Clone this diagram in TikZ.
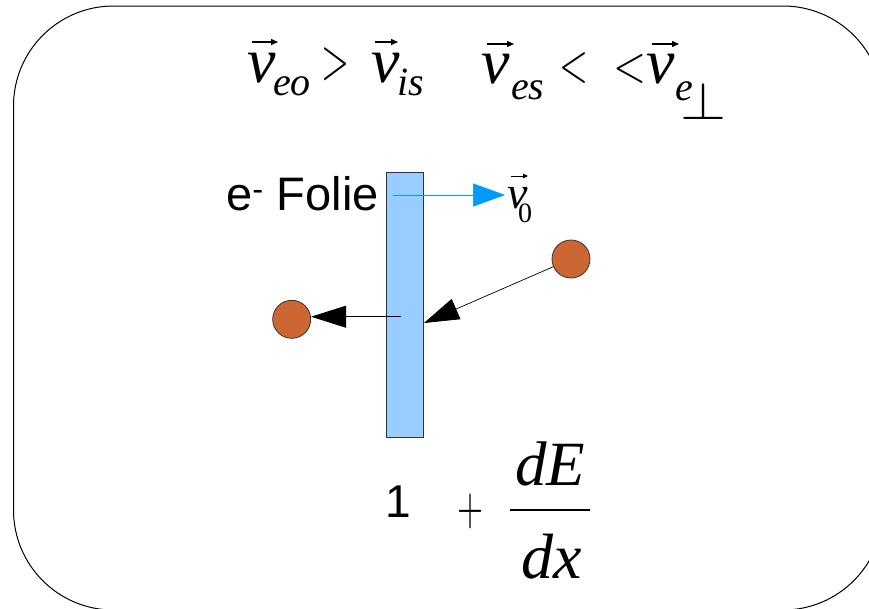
\documentclass[tikz,border=0pt]{standalone}
\usepackage{fontspec}
\setmainfont{Liberation Serif}
\newfontfamily\sansf{Liberation Sans}
\usetikzlibrary{arrows.meta}
\definecolor{foilblue}{HTML}{99CCFF}
\definecolor{ionfill}{HTML}{CC6633}
\definecolor{beamblue}{HTML}{0099FF}
\definecolor{edgegray}{HTML}{333333}
\tikzset{
  vbig/.style={anchor=base west, inner sep=0pt, font=\fontsize{64}{64}\selectfont\itshape},
  subtxt/.style={anchor=base west, inner sep=0pt, font=\fontsize{40}{40}\selectfont\itshape},
  reltxt/.style={inner sep=0pt},
  vecarrow/.style={-{Triangle[length=7pt,width=6pt]}, line width=1.3pt},
  ion/.style={circle, draw=edgegray, fill=ionfill, minimum size=38pt, inner sep=0pt, line width=0.8pt},
  foilbox/.style={draw=edgegray, fill=foilblue, minimum width=37.5pt, minimum height=264.3pt, inner sep=0pt, line width=0.8pt},
  bigarrow/.style={-{Triangle[length=35pt,width=22pt]}, line width=0.7pt},
  beam/.style={beamblue, -{Triangle[length=32pt,width=23pt]}, line width=0.7pt},
  sanslabel/.style={inner sep=0pt, font=\sansf\fontsize{47}{47}\selectfont},
}
\begin{document}
\begin{tikzpicture}[x=1pt,y=-1pt]
\useasboundingbox (0,0) rectangle (869,608);
\fill[white] (0,0) rectangle (869,608);
\begin{scope}
  \clip (0,0) rectangle (869,608);
  \draw[line width=1pt, rounded corners=100pt] (13.5,6) rectangle (883,610);
\end{scope}

% top formula
\node[vbig] (v1) at (247,82) {v};
\node[subtxt] (s1) at (273,95) {eo};
\node[reltxt] (r1) at (335,64) {\resizebox*{28pt}{33pt}{$>$}};
\node[vbig] (v2) at (371,82) {v};
\node[subtxt] (s2) at (397,95) {is};
\node[vbig] (v3) at (481,83) {v};
\node[subtxt] (s3) at (511,99) {es};
\node[reltxt] (r2) at (573.5,68) {\resizebox*{29pt}{31pt}{$<$}};
\node[reltxt] (r3) at (630,69) {\resizebox*{33pt}{29pt}{$<$}};
\node[vbig] (v4) at (646,83) {v};
\node[subtxt] (s4) at (675,100) {e};
\node[reltxt] (perp) at (703.5,100.5) {\resizebox*{46pt}{37pt}{$\perp$}};
\draw[vecarrow] (252,42) -- (278,42);
\draw[vecarrow] (375,42) -- (398,42);
\draw[vecarrow] (487,44) -- (514,44);
\draw[vecarrow] (652,44) -- (679,44);

% foil
\node[foilbox] (foil) at (404.75,304.85) {};
\node[sanslabel, anchor=base east] (lbl) at (379,210) {e\textsuperscript{-} Folie};

% beam velocity
\coordinate (b0) at (393,195);
\node[anchor=base west, inner sep=0pt, font=\fontsize{46}{46}\selectfont\itshape] (v0) at (507,208) {v};
\node[anchor=base west, inner sep=0pt, font=\fontsize{28}{28}\selectfont] (v0sub) at (518,222) {0};
\draw[vecarrow, line width=1pt, -{Triangle[length=5pt,width=4.5pt]}] (511,176) -- (528,176);
\draw[beam] (b0) -- ([xshift=-2pt]v0.west |- b0);

% ions
\node[ion] (ionR) at (571,259) {};
\node[ion] (ionL) at (291.7,319.3) {};
\coordinate (hitR) at (424,323);
\coordinate (exitL) at (400.7,316.7);
\draw[bigarrow] (ionR) -- (hitR);
\draw[bigarrow] (exitL) -- (ionL.east |- exitL);

% bottom formula
\node[anchor=base, inner sep=0pt, font=\sansf\fontsize{46}{46}\selectfont] (one) at (398,517) {1};
\node[reltxt] (plus) at (470.5,511) {\resizebox*{26pt}{35pt}{$+$}};
\node[anchor=base, inner sep=0pt, font=\fontsize{63}{63}\selectfont\itshape] (num) at (550,485) {dE};
\node[anchor=base, inner sep=0pt, font=\fontsize{64}{64}\selectfont\itshape] (den) at (551.5,578) {dx};
\coordinate (fbL) at (510,510);
\coordinate (fbR) at (590,510);
\draw[line width=2.2pt] (fbL) -- (fbR);
\end{tikzpicture}
\end{document}
